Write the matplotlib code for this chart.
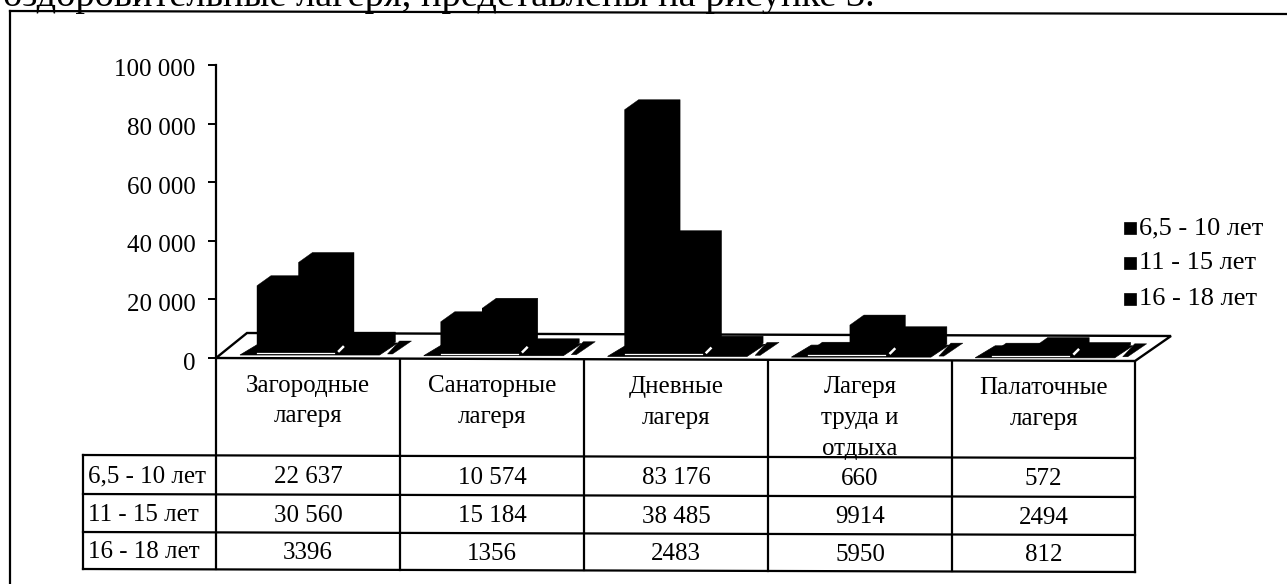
import matplotlib
matplotlib.use("Agg")
import matplotlib.pyplot as plt
from matplotlib.patches import Polygon, Rectangle
from matplotlib.transforms import ScaledTranslation

plt.rcParams['font.family'] = ['Liberation Serif', 'DejaVu Serif']

categories = ["Загородные\nлагеря", "Санаторные\nлагеря", "Дневные\nлагеря",
              "Лагеря\nтруда и\nотдыха", "Палаточные\nлагеря"]
series_names = ["6,5 - 10 лет", "11 - 15 лет", "16 - 18 лет"]
s1 = [22637, 10574, 83176, 660, 572]
s2 = [30560, 15184, 38485, 9914, 2494]
s3 = [3396, 1356, 2483, 5950, 812]
table_text = [["22 637", "10 574", "83 176", "660", "572"],
              ["30 560", "15 184", "38 485", "9914", "2494"],
              ["3396", "1356", "2483", "5950", "812"]]
yticks = [0, 20000, 40000, 60000, 80000, 100000]
yticklabels = ["0", "20 000", "40 000", "60 000", "80 000", "100 000"]
caption = "оздоровительные лагеря, представлены на рисунке 3."

W, H = 1287, 584
FS = 18
fig = plt.figure(figsize=(W/100, H/100), dpi=100, facecolor='white')
pg = fig.add_axes([0, 0, 1, 1]); pg.set_xlim(0, W); pg.set_ylim(H, 0); pg.axis('off')
L, R, T, B = 216, 1135, 65, 358
ax = fig.add_axes([L/W, 1-B/H, (R-L)/W, (B-T)/H], facecolor='none')
ax.set_xlim(0, 5); ax.set_ylim(0, 100000)
for s in ('top', 'right', 'bottom'):
    ax.spines[s].set_visible(False)
ax.spines['left'].set_linewidth(1.6)
ax.set_xticks([])
ax.set_yticks(yticks, yticklabels, fontsize=FS)
ax.tick_params(axis='y', length=6, width=1.4, pad=8)
shift = ScaledTranslation(-1/100, -3/100, fig.dpi_scale_trans)
for lab in ax.get_yticklabels():
    lab.set_transform(lab.get_transform() + shift)

px_x = 5/(R-L); px_y = 100000/(B-T)
dx, dy = 14*px_x, 10*px_y
bw = 41.5*px_x
start = 41*px_x
tilt = 0.7*px_y   # scan skew per category
k = 'black'
# floor
ax.add_patch(Polygon([(0, 0), (5, -3*px_y), (5+36*px_x, 22*px_y), (31*px_x, 25*px_y)],
                     closed=True, fc='white', ec=k, lw=1.7, clip_on=False, zorder=1))
for i in range(5):
    x0 = i + start
    base = 6*px_y - i*tilt
    ax.add_patch(Polygon([(x0-17*px_x, base-3*px_y), (x0+3*bw-2*px_x, base-3*px_y),
                          (x0+3*bw+dx+2*px_x, base+dy-1*px_y), (x0+3*px_x, base+dy-1*px_y)],
                         closed=True, fc=k, ec=k, lw=0.5, zorder=2, clip_on=False))
    ax.add_patch(Polygon([(x0+3*bw+6*px_x, base-2*px_y), (x0+3*bw+11*px_x, base-2*px_y),
                          (x0+3*bw+30*px_x, base+dy+1*px_y), (x0+3*bw+18*px_x, base+dy+1*px_y)],
                         closed=True, fc=k, ec=k, lw=0.3, zorder=2, clip_on=False))
for j, vals in enumerate((s1, s2, s3)):
    for i, v in enumerate(vals):
        x0 = i + start + j*bw
        base = 6*px_y - i*tilt
        ax.bar(x0, v, bw, bottom=base, align='edge', color=k, zorder=3+j, clip_on=False)
        ax.add_patch(Polygon([(x0, base+v), (x0+dx, base+v+dy), (x0+bw+dx, base+v+dy),
                              (x0+bw+dx, base+dy), (x0+bw, base), (x0, base)],
                             closed=True, fc=k, ec=k, lw=0.3, zorder=3+j, clip_on=False))
for i in range(5):
    x0 = i + start
    base = 6*px_y - i*tilt
    ax.plot([x0, x0+2*bw-6*px_x], [base-1*px_y, base-1*px_y], color='white', lw=0.9,
            zorder=7, clip_on=False)
    ax.plot([x0+2*bw-1*px_x, x0+2*bw+3*px_x], [base+1*px_y, base+5*px_y], color='white', lw=1.8,
            zorder=7, clip_on=False)

# legend
for name, y in zip(series_names, (228, 263, 299)):
    pg.add_patch(Rectangle((1124, y-6), 12, 12, fc=k, ec=k, lw=0.5))
    pg.text(1139, y, name, fontsize=FS+1, va='center', ha='left')

# table (horizontal lines carry the slight scan skew)
cols = [216, 400, 584, 768, 952, 1135]
rows = [358, 455, 494, 532, 569]
skew = 3
lw = 1.6
def yat(x, y):
    return y + skew*(x-83)/(1135-83)
for x in cols:
    pg.plot([x, x], [yat(x, rows[0]), yat(x, rows[-1])], color=k, lw=lw)
pg.plot([83, 83], [rows[1], rows[-1]], color=k, lw=lw)
for y in rows[1:]:
    pg.plot([83, 1135], [yat(83, y), yat(1135, y)], color=k, lw=lw)
for i, c in enumerate(categories):
    cx = (cols[i]+cols[i+1])/2
    pg.text(cx, yat(cx, 374), c, fontsize=FS, ha='center', va='top', linespacing=1.52)
    for r in range(3):
        pg.text(cx, yat(cx, (rows[r+1]+rows[r+2])/2+2), table_text[r][i], fontsize=FS, ha='center', va='center')
for r, name in enumerate(series_names):
    pg.text(88, (rows[r+1]+rows[r+2])/2+2, name, fontsize=FS, ha='left', va='center')

# frame and caption
pg.plot([10, 10], [584, 11], color=k, lw=1.6)
pg.plot([10, 1287], [11, 14], color=k, lw=1.6)
pg.text(3, 6, caption, fontsize=27.6, ha='left', va='baseline', clip_on=True)
fig.savefig('out.png', dpi=100)
